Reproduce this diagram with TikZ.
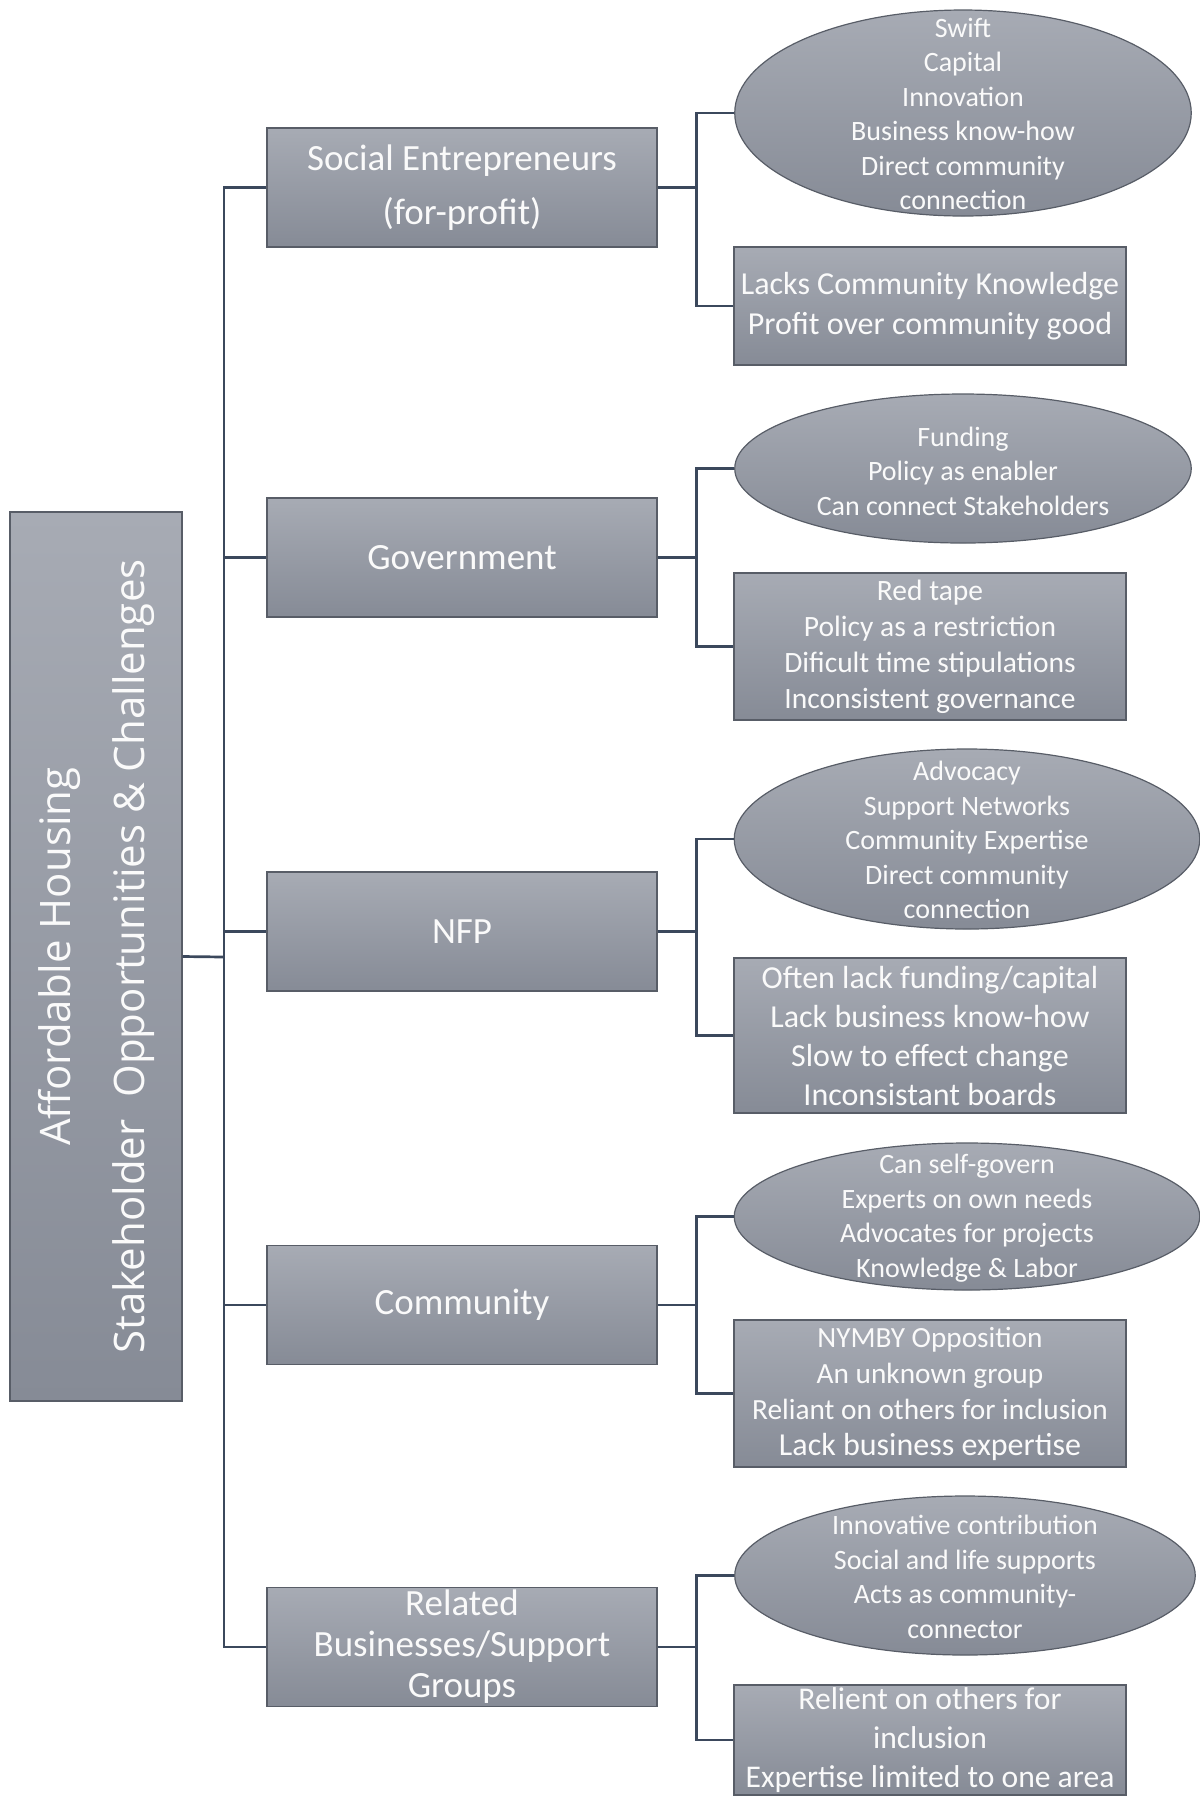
\documentclass[tikz,border=0pt]{standalone}
\usepackage{fontspec}
\setmainfont{Carlito}
\newfontfamily\titlefont{Open Sans}
\usetikzlibrary{shapes.geometric}
\definecolor{boxtop}{RGB}{167,171,180}
\definecolor{boxbot}{RGB}{134,139,150}
\definecolor{boxline}{RGB}{88,93,103}
\definecolor{conncol}{RGB}{59,72,92}
\definecolor{txt}{RGB}{250,250,250}
\tikzset{
  filled/.style={draw=boxline, line width=0.6pt, top color=boxtop, bottom color=boxbot, inner sep=0pt},
  lvl/.style={filled, rectangle, text=txt, align=center, minimum width=195pt, minimum height=59.5pt,
              font=\fontsize{18.5}{27}\selectfont},
  rbox/.style={filled, rectangle, text=txt, align=center, minimum width=196pt},
  oval/.style={filled, ellipse},
  otext/.style={text=txt, align=center, inner sep=0pt, font=\fontsize{14}{17.25}\selectfont},
  conn/.style={draw=conncol, line width=1.35pt, line join=miter},
}
\begin{document}
\begin{tikzpicture}[x=0.5pt,y=-0.5pt]
\useasboundingbox (0,0) rectangle (1200,1796);
% main box
\node[filled, rectangle, minimum width=86pt, minimum height=444.5pt] (main) at (96,956.5) {};
\node[text=txt, rotate=90, align=center, inner sep=0pt, font=\titlefont\fontsize{21}{37}\selectfont] (maint) at (96,956.5)
  {Affordable Housing\\Stakeholder\ \ Opportunities \& Challenges};
% level 1
\node[lvl] (se)  at (462,187.5) {Social Entrepreneurs\\(for-profit)};
\node[lvl] (gov) at (462,557.5) {Government};
\node[lvl] (nfp) at (462,931.5) {NFP};
\node[lvl] (com) at (462,1305) {Community};
\node[lvl, font=\fontsize{18.5}{20.5}\selectfont] (rel) at (462,1647) {Related\\Businesses/Support\\Groups};
% ellipses
\node[oval, minimum width=228.25pt, minimum height=103pt] (e1) at (963,113) {};
\node[otext] (e1t) at (963,114) {Swift\\Capital\\Innovation\\Business know-how\\Direct community\\connection};
\node[oval, minimum width=228.25pt, minimum height=74.5pt] (e2) at (963,468.5) {};
\node[otext] (e2t) at (963,471) {Funding\\Policy as enabler\\Can connect Stakeholders};
\node[oval, minimum width=232.75pt, minimum height=90pt] (e3) at (967,839) {};
\node[otext] (e3t) at (967,840) {Advocacy\\Support Networks\\Community Expertise\\Direct community\\connection};
\node[oval, minimum width=232.75pt, minimum height=73.5pt] (e4) at (967,1216.5) {};
\node[otext] (e4t) at (967,1218) {Can self-govern\\Experts on own needs\\Advocates for projects\\Knowledge \& Labor};
\node[oval, minimum width=230.25pt, minimum height=79.5pt] (e5) at (965,1575.5) {};
\node[otext] (e5t) at (965,1577) {Innovative contribution\\Social and life supports\\Acts as community-\\connector};
% rect boxes
\node[rbox, minimum height=59pt, font=\fontsize{16}{20}\selectfont] (b1) at (930,306)
  {Lacks Community Knowledge\\Profit over community good};
\node[rbox, minimum height=73.5pt, font=\fontsize{14.75}{18}\selectfont] (b2) at (930,646.5)
  {Red tape\\Policy as a restriction\\Dificult time stipulations\\Inconsistent governance};
\node[rbox, minimum height=77.5pt, font=\fontsize{16}{19.5}\selectfont] (b3) at (930,1035.5)
  {Often lack funding/capital\\Lack business know-how\\Slow to effect change\\Inconsistant boards};
\node[rbox, minimum height=73.5pt, font=\fontsize{14.65}{18}\selectfont] (b4) at (930,1393.5)
  {NYMBY Opposition\\An unknown group\\Reliant on others for inclusion\\{\fontsize{16}{18}\selectfont Lack business expertise}};
\node[rbox, minimum height=55pt, font=\fontsize{15.8}{19.5}\selectfont] (b5) at (930,1740)
  {Relient on others for\\inclusion\\Expertise limited to one area};
% connectors
\coordinate (tj) at (224,957);
\draw[conn] (main.east) -- (tj);
\draw[conn] (se.west) -| (tj |- rel.west) -- (rel.west);
\draw[conn] (tj |- gov.west) -- (gov.west);
\draw[conn] (tj |- nfp.west) -- (nfp.west);
\draw[conn] (tj |- com.west) -- (com.west);
\foreach \p/\e/\b in {se/e1/b1, gov/e2/b2, nfp/e3/b3, com/e4/b4, rel/e5/b5}{
  \coordinate (j\p) at ([xshift=19.5pt]\p.east);
  \draw[conn] (\p.east) -- (j\p);
  \draw[conn] (\e.west) -| (j\p |- \b.west) -- (\b.west);
}
\end{tikzpicture}
\end{document}
